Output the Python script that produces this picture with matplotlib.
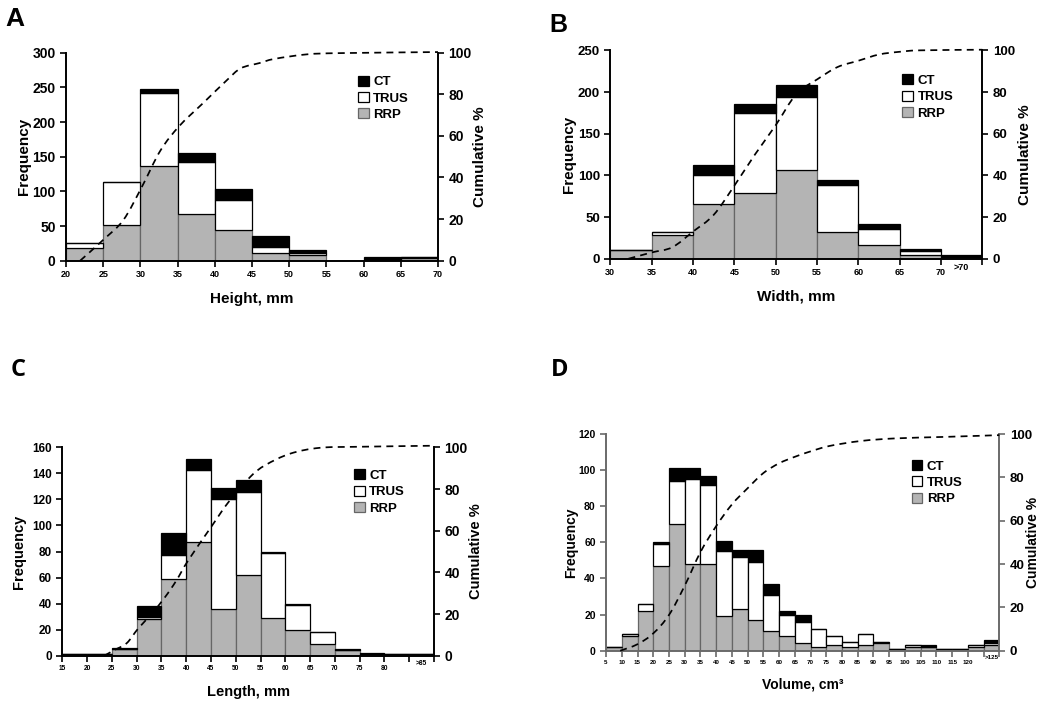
import numpy as np
import matplotlib
matplotlib.use('Agg')
import matplotlib.pyplot as plt
from matplotlib.path import Path
from matplotlib.patches import PathPatch, Patch

plt.rcParams['font.family'] = ['Liberation Sans', 'DejaVu Sans']
plt.rcParams['font.weight'] = 'bold'

# ---- data ----
# A: height
a_left = [20, 25, 30, 35, 40, 45, 50, 55, 60, 65]
a_rrp = [19, 51, 136, 67, 44, 11, 8, 0, 1, 4]
a_trus = [7, 63, 106, 75, 44, 9, 3, 0, 0, 1]
a_ct = [0, 0, 6, 13, 15, 15, 4, 0, 4, 0]
a_cum_x = [21.9, 25, 27.7, 30.2, 32.7, 35.3, 38.5, 41.6, 43.5, 46, 48, 52.4, 57, 70]
a_cum_y = [0, 10, 19.5, 35.5, 53, 65, 76, 86.7, 92.5, 95, 97, 99.2, 99.8, 100.3]
a_ticklabels = ['20', '25', '30', '35', '40', '45', '50', '55', '60', '65', '70']

# B: width
b_left = [30, 35, 40, 45, 50, 55, 60, 65, 70]
b_rrp = [11, 28, 66, 79, 106, 32, 16, 4, 2]
b_trus = [0, 4, 35, 96, 88, 57, 20, 5, 0]
b_ct = [0, 0, 11, 11, 14, 5, 6, 3, 3]
b_cum_x = [32.2, 35, 37.5, 40, 42.5, 45, 47.5, 50, 52.5, 55, 57.5, 60, 62.5, 65, 67.5, 75]
b_cum_y = [0, 3, 5.5, 13, 21, 35, 50, 64, 79, 86, 92, 95, 98, 99.3, 100, 100.3]
b_ticklabels = ['30', '35', '40', '45', '50', '55', '60', '65', '70', '']
b_lastlabel = '>70'

# C: length
c_left = [15, 20, 25, 30, 35, 40, 45, 50, 55, 60, 65, 70, 75, 80, 85]
c_rrp = [1, 1, 5, 28, 59, 87, 36, 62, 29, 20, 9, 4, 1, 1, 1]
c_trus = [0, 0, 0, 2, 18, 56, 84, 64, 50, 19, 9, 0, 0, 0, 0]
c_ct = [0, 0, 1, 8, 17, 8, 9, 9, 1, 1, 0, 1, 1, 0, 0]
c_cum_x = [23.5, 25.5, 28, 30.3, 33, 35.7, 38, 40.4, 45.1, 48.5, 53, 56, 61, 67, 75, 90]
c_cum_y = [0, 2.7, 6, 13, 20, 28, 36, 45.7, 62, 73.6, 86, 91.5, 97, 99.8, 100.3, 100.8]
c_ticklabels = ['15', '20', '25', '30', '35', '40', '45', '50', '55', '60', '65',
                '70', '75', '80', '', '']
c_lastlabel = '>85'

# D: volume
d_left = [5, 10, 15, 20, 25, 30, 35, 40, 45, 50, 55, 60, 65, 70, 75, 80, 85, 90,
          95, 100, 105, 110, 115, 120, 125]
d_rrp = [2, 8, 22, 47, 70, 48, 48, 19, 23, 17, 11, 8, 4, 2, 3, 2, 3, 4, 1, 2, 2, 1, 1, 2, 3]
d_trus = [0, 1, 4, 12, 24, 47, 44, 36, 29, 32, 20, 12, 12, 10, 5, 3, 6, 1, 0, 1, 0, 0, 0, 1, 1]
d_ct = [0, 0, 0, 1, 7, 6, 5, 6, 4, 7, 6, 2, 4, 0, 0, 0, 0, 0, 0, 0, 1, 0, 0, 0, 2]
d_cum_x = [9.5, 15, 20, 25, 30, 35, 40, 45, 50, 55, 60, 65, 70, 76, 86, 97, 113, 130]
d_cum_y = [0, 3, 8, 16.5, 30, 45.5, 57.5, 67.5, 75, 82, 86.5, 89.5, 92, 94.5, 96.8, 98, 98.7, 99.5]
d_ticklabels = ['5', '10', '15', '20', '25', '30', '35', '40', '45', '50', '55', '60',
                '65', '70', '75', '80', '85', '90', '95', '100', '105', '110', '115',
                '120', '', '']
d_lastlabel = '>125'

GRAY = '#b4b4b4'


def smooth_path(xs, ys):
    # Catmull-Rom through the points, drawn as cubic Bezier (like Excel smoothed line)
    pts = np.column_stack([xs, ys]).astype(float)
    n = len(pts)
    verts = [pts[0]]
    codes = [Path.MOVETO]
    for i in range(n - 1):
        p0 = pts[max(i - 1, 0)]
        p1 = pts[i]
        p2 = pts[i + 1]
        p3 = pts[min(i + 2, n - 1)]
        verts += [p1 + (p2 - p0) / 6., p2 - (p3 - p1) / 6., p2]
        codes += [Path.CURVE4] * 3
    return Path(verts, codes)


def panel(rect, left, rrp, trus, ct, cum_x, cum_y, ticklabels, lastlabel,
          ymax, ystep, xlabel, xfs, yfs, rfs, lfs, leg_xy, spcol='black',
          lpad=4, rpad=2):
    ax = fig.add_axes(rect)
    left = np.array(left, float)
    rrp = np.array(rrp, float)
    trus = np.array(trus, float)
    ct = np.array(ct, float)
    ax.bar(left, rrp, width=5, align='edge', color=GRAY, edgecolor='#666666', lw=0.9, zorder=2)
    ax.bar(left, trus, width=5, bottom=rrp, align='edge', color='white', edgecolor='black', lw=0.9, zorder=2)
    ax.bar(left, ct, width=5, bottom=rrp + trus, align='edge', color='black', edgecolor='black', lw=0.9, zorder=2)
    x0 = left[0]
    x1 = left[-1] + 5
    ax.set_xlim(x0, x1)
    ax.set_ylim(0, ymax)
    edges = np.arange(x0, x1 + 0.1, 5)
    ax.set_xticks(edges)
    ax.set_xticklabels(ticklabels, fontsize=xfs, fontweight='bold')
    if lastlabel:
        ax.set_xticks([x1 - 2.5], minor=True)
        ax.set_xticklabels([lastlabel], minor=True, fontsize=xfs, fontweight='bold')
        ax.tick_params(axis='x', which='minor', length=0, pad=3)
    ax.set_yticks(np.arange(0, ymax + 1, ystep))
    ax.tick_params(axis='y', labelsize=yfs, length=4, width=1.2, direction='out')
    ax.tick_params(axis='x', which='major', length=4, width=1.2, direction='out', pad=3)
    ax.set_ylabel('Frequency', fontsize=lfs, fontweight='bold', labelpad=lpad)
    ax.set_xlabel(xlabel, fontsize=lfs, fontweight='bold', labelpad=9)
    for s in ['top', 'right']:
        ax.spines[s].set_visible(False)
    for s in ['left', 'bottom']:
        ax.spines[s].set_linewidth(1.4)
        ax.spines[s].set_color(spcol)
    ax.tick_params(colors=spcol, labelcolor='black')

    tw = ax.twinx()
    tw.set_ylim(0, 100)
    tw.set_yticks([0, 20, 40, 60, 80, 100])
    tw.tick_params(axis='y', labelsize=rfs, length=4, width=1.2, direction='out',
                   colors=spcol, labelcolor='black')
    for s in ['top', 'left', 'bottom']:
        tw.spines[s].set_visible(False)
    tw.spines['right'].set_linewidth(1.4)
    tw.spines['right'].set_color(spcol)
    tw.set_ylabel('Cumulative %', fontsize=lfs, fontweight='bold', labelpad=rpad)
    tw.add_patch(PathPatch(smooth_path(cum_x, cum_y), fill=False, ec='black', lw=1.25,
                           ls=(0, (4, 3)), clip_on=False, zorder=3))

    handles = [Patch(fc='black', ec='black', lw=0.9),
               Patch(fc='white', ec='black', lw=0.9),
               Patch(fc=GRAY, ec='#666666', lw=0.9)]
    tw.legend(handles, ['CT', 'TRUS', 'RRP'], loc='upper left', bbox_to_anchor=leg_xy,
              frameon=False, borderpad=0, borderaxespad=0, handlelength=0.8,
              handleheight=0.8, handletextpad=0.35, labelspacing=0.28,
              prop={'size': 9.5, 'weight': 'bold'})
    return ax


fig = plt.figure(figsize=(10.61, 7.09), dpi=100)

panel([0.0622, 0.6323, 0.3506, 0.2934], a_left, a_rrp, a_trus, a_ct, a_cum_x, a_cum_y,
      a_ticklabels, None, 300, 50, 'Height, mm', 6.5, 10, 10, 11, (0.785, 0.89),
      lpad=1, rpad=1)
panel([0.5752, 0.6351, 0.3506, 0.2939], b_left, b_rrp, b_trus, b_ct, b_cum_x, b_cum_y,
      b_ticklabels, b_lastlabel, 250, 50, 'Width, mm', 6.5, 9.5, 9.5, 11, (0.785, 0.885),
      lpad=1, rpad=2)
panel([0.0587, 0.0752, 0.3503, 0.2938], c_left, c_rrp, c_trus, c_ct, c_cum_x, c_cum_y,
      c_ticklabels, c_lastlabel, 160, 20, 'Length, mm', 4.8, 8.5, 10, 10.5, (0.785, 0.895),
      lpad=4, rpad=1)
panel([0.5712, 0.0822, 0.3707, 0.3056], d_left, d_rrp, d_trus, d_ct, d_cum_x, d_cum_y,
      d_ticklabels, d_lastlabel, 120, 20, 'Volume, cm\u00b3', 4.5, 7.5, 9.5, 10, (0.777, 0.88),
      spcol='#6a6a6a', lpad=0, rpad=-4)

fig.text(0.005, 0.99, 'A', fontsize=19, fontweight='bold', va='top', ha='left')
fig.text(0.518, 0.982, 'B', fontsize=18, fontweight='bold', va='top', ha='left')
fig.text(0.010, 0.495, 'C', fontsize=17, fontweight='bold', va='top', ha='left',
         family=['Open Sans', 'DejaVu Sans'])
fig.text(0.519, 0.495, 'D', fontsize=17, fontweight='bold', va='top', ha='left',
         family=['Open Sans', 'DejaVu Sans'])

fig.savefig('out.png', dpi=100)
